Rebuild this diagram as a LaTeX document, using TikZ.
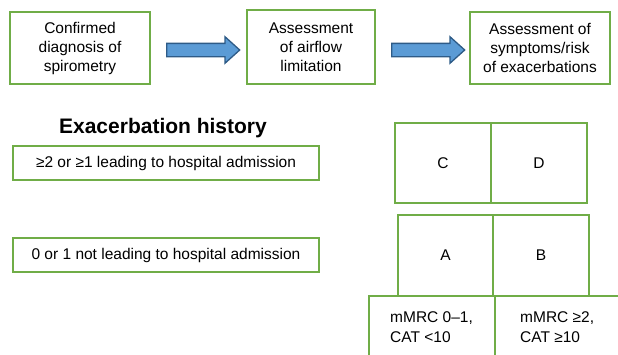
\documentclass[tikz,border=0pt]{standalone}
\usepackage{fontspec}
\setmainfont{Liberation Sans}
\usetikzlibrary{shapes.arrows}
\definecolor{boxgreen}{HTML}{70AD47}
\definecolor{arrowfill}{HTML}{5B9BD5}
\definecolor{arrowline}{HTML}{2E5B87}
\tikzset{
  gbox/.style={draw=boxgreen, line width=1.2pt, fill=white, inner sep=0pt, align=center,
    font=\fontsize{15.5}{19}\selectfont},
  blockarrow/.style={single arrow, draw=arrowline, fill=arrowfill, line width=1.3pt,
    minimum height=73pt, inner sep=6pt, single arrow head extend=6.5pt,
    single arrow tip angle=84},
  celltext/.style={font=\fontsize{15.5}{20}\selectfont, align=left, inner sep=0pt, anchor=north west}
}
\begin{document}
\begin{tikzpicture}[x=1pt,y=-1pt]
\clip (0,0) rectangle (618,354);
\fill[white] (0,0) rectangle (618,354);
% top flow
\node[gbox, minimum width=140pt, minimum height=72pt] (b1) at (80,48) {Confirmed\\diagnosis of\\spirometry};
\node[gbox, minimum width=128pt, minimum height=74pt] (b2) at (311,47) {Assessment\\of airflow\\limitation};
\node[gbox, minimum width=140pt, minimum height=72pt] (b3) at (540,48) {Assessment of\\symptoms/risk\\of exacerbations};
\node[blockarrow] (a1) at (199.5,50) {};
\node[blockarrow] (a2) at (424.5,50) {};
% exacerbation history
\node[font=\fontsize{21}{25}\selectfont\bfseries, inner sep=0pt] (title) at (163,128) {Exacerbation history};
\node[gbox, minimum width=306pt, minimum height=34pt] (e1) at (166,163) {≥2 or ≥1 leading to hospital admission};
\node[gbox, minimum width=306pt, minimum height=34pt] (e2) at (166,255) {0 or 1 not leading to hospital admission};
% grid
\node[gbox, minimum width=96pt, minimum height=80pt] (C) at (443,163) {C};
\node[gbox, minimum width=96pt, minimum height=80pt] (D) at (539,163) {D};
\node[gbox, minimum width=95pt, minimum height=81pt] (A) at (445.5,255.5) {A};
\node[gbox, minimum width=96pt, minimum height=81pt] (B) at (541,255.5) {B};
\node[gbox, minimum width=126pt, minimum height=80pt] (m1) at (432,336) {};
\node[gbox, minimum width=140pt, minimum height=80pt] (m2) at (565,336) {};
\node[celltext] (t1) at (390,311) {mMRC 0–1,\\CAT <10};
\node[celltext] (t2) at (520,311) {mMRC ≥2,\\CAT ≥10};
\end{tikzpicture}
\end{document}
